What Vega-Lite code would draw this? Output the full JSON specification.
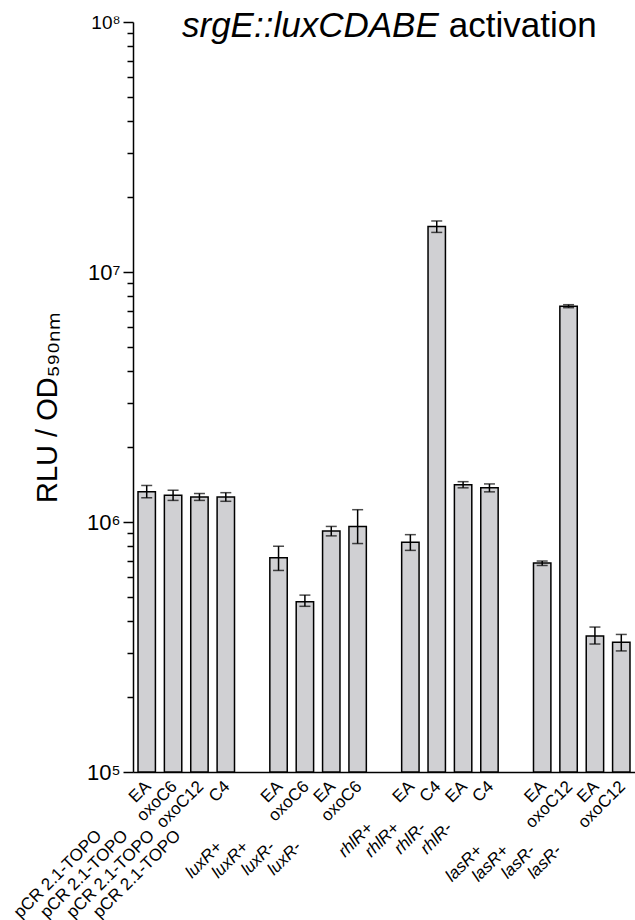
{
  "$schema": "https://vega.github.io/schema/vega-lite/v6.json",
  "width": 502,
  "height": 750,
  "autosize": {"type": "none"},
  "padding": {"left": 133, "top": 22, "right": 0, "bottom": 148},
  "background": "white",
  "config": {"view": {"stroke": null}, "font": "Liberation Sans", "text": {"font": "Liberation Sans", "color": "black"}},
  "data": {"values": [
    {"slot": "pCR|EA", "grp": "pCR", "strain": "pCR 2.1-TOPO", "treatment": "EA", "value": 1320000, "lo": 1250000, "hi": 1400000},
    {"slot": "pCR|oxoC6", "grp": "pCR", "strain": "pCR 2.1-TOPO", "treatment": "oxoC6", "value": 1280000, "lo": 1220000, "hi": 1340000},
    {"slot": "pCR|oxoC12", "grp": "pCR", "strain": "pCR 2.1-TOPO", "treatment": "oxoC12", "value": 1260000, "lo": 1220000, "hi": 1300000},
    {"slot": "pCR|C4", "grp": "pCR", "strain": "pCR 2.1-TOPO", "treatment": "C4", "value": 1260000, "lo": 1210000, "hi": 1310000},
    {"slot": "luxR+|EA", "grp": "luxR", "strain": "luxR+", "treatment": "EA", "value": 720000, "lo": 640000, "hi": 800000},
    {"slot": "luxR+|oxoC6", "grp": "luxR", "strain": "luxR+", "treatment": "oxoC6", "value": 480000, "lo": 460000, "hi": 510000},
    {"slot": "luxR-|EA", "grp": "luxR", "strain": "luxR-", "treatment": "EA", "value": 920000, "lo": 880000, "hi": 960000},
    {"slot": "luxR-|oxoC6", "grp": "luxR", "strain": "luxR-", "treatment": "oxoC6", "value": 960000, "lo": 820000, "hi": 1120000},
    {"slot": "rhlR+|EA", "grp": "rhlR", "strain": "rhlR+", "treatment": "EA", "value": 830000, "lo": 770000, "hi": 890000},
    {"slot": "rhlR+|C4", "grp": "rhlR", "strain": "rhlR+", "treatment": "C4", "value": 15200000, "lo": 14400000, "hi": 16000000},
    {"slot": "rhlR-|EA", "grp": "rhlR", "strain": "rhlR-", "treatment": "EA", "value": 1410000, "lo": 1370000, "hi": 1450000},
    {"slot": "rhlR-|C4", "grp": "rhlR", "strain": "rhlR-", "treatment": "C4", "value": 1370000, "lo": 1320000, "hi": 1420000},
    {"slot": "lasR+|EA", "grp": "lasR", "strain": "lasR+", "treatment": "EA", "value": 686000, "lo": 670000, "hi": 698000},
    {"slot": "lasR+|oxoC12", "grp": "lasR", "strain": "lasR+", "treatment": "oxoC12", "value": 7300000, "lo": 7200000, "hi": 7400000},
    {"slot": "lasR-|EA", "grp": "lasR", "strain": "lasR-", "treatment": "EA", "value": 350000, "lo": 325000, "hi": 380000},
    {"slot": "lasR-|oxoC12", "grp": "lasR", "strain": "lasR-", "treatment": "oxoC12", "value": 330000, "lo": 305000, "hi": 355000}
  ]},
  "layer": [
    {
      "mark": {"type": "bar", "fill": "#d0d0d3", "stroke": "black", "strokeWidth": 1.5},
      "encoding": {
        "x": {
          "field": "slot", "type": "nominal",
          "scale": {"domain": ["pCR|EA", "pCR|oxoC6", "pCR|oxoC12", "pCR|C4", "gap1", "luxR+|EA", "luxR+|oxoC6", "luxR-|EA", "luxR-|oxoC6", "gap2", "rhlR+|EA", "rhlR+|C4", "rhlR-|EA", "rhlR-|C4", "gap3", "lasR+|EA", "lasR+|oxoC12", "lasR-|EA", "lasR-|oxoC12"], "paddingInner": 0.34, "paddingOuter": 0.19},
          "axis": {"title": null, "labels": false, "ticks": false, "domain": true, "domainColor": "black", "domainWidth": 1.5, "grid": false}
        },
        "y": {
          "field": "value", "type": "quantitative",
          "scale": {"type": "log", "domain": [100000, 100000000], "nice": false},
          "axis": {
            "title": "RLU / OD₅₉₀ₙₘ",
            "titleFontSize": 29, "titleFontWeight": "normal", "titleColor": "black",
            "titleX": -86, "titleY": 385, "titleAngle": -90, "titleAlign": "center", "titleBaseline": "middle",
            "values": [100000, 200000, 300000, 400000, 500000, 600000, 700000, 800000, 900000, 1000000, 2000000, 3000000, 4000000, 5000000, 6000000, 7000000, 8000000, 9000000, 10000000, 20000000, 30000000, 40000000, 50000000, 60000000, 70000000, 80000000, 90000000, 100000000],
            "labelExpr": "datum.value == 100000 ? '10⁵' : datum.value == 1000000 ? '10⁶' : datum.value == 10000000 ? '10⁷' : datum.value == 100000000 ? '10⁸' : ''",
            "labelFontSize": {"condition": {"test": "datum.value == 100000000", "value": 19}, "value": 22},
            "labelColor": "black", "labelOverlap": false, "labelFlush": false, "labelPadding": 3,
            "tickSize": {"condition": {"test": "datum.value == 100000 || datum.value == 1000000 || datum.value == 10000000 || datum.value == 100000000", "value": 10}, "value": 6},
            "tickColor": "black", "tickWidth": 1.5, "domainColor": "black", "domainWidth": 1.5, "grid": false
          }
        },
        "y2": {"datum": 100000}
      }
    },
    {
      "mark": {"type": "rule", "color": "black", "strokeWidth": 1.5},
      "encoding": {
        "x": {"field": "slot", "type": "nominal"},
        "y": {"field": "lo", "type": "quantitative"},
        "y2": {"field": "hi"}
      }
    },
    {
      "mark": {"type": "tick", "color": "black", "thickness": 1.5, "size": 11},
      "encoding": {
        "x": {"field": "slot", "type": "nominal"},
        "y": {"field": "lo", "type": "quantitative"}
      }
    },
    {
      "mark": {"type": "tick", "color": "black", "thickness": 1.5, "size": 11},
      "encoding": {
        "x": {"field": "slot", "type": "nominal"},
        "y": {"field": "hi", "type": "quantitative"}
      }
    },
    {
      "mark": {"type": "text", "angle": -45, "align": "right", "baseline": "middle", "dx": -7.5, "dy": 9.5, "fontSize": 17},
      "encoding": {
        "x": {"field": "slot", "type": "nominal"},
        "y": {"datum": 100000},
        "text": {"field": "treatment"}
      }
    },
    {
      "transform": [{"filter": "datum.grp == 'pCR'"}],
      "mark": {"type": "text", "angle": -45, "align": "right", "baseline": "middle", "dx": -77, "dy": 9.5, "fontSize": 17},
      "encoding": {
        "x": {"field": "slot", "type": "nominal"},
        "y": {"datum": 100000},
        "text": {"field": "strain"}
      }
    },
    {
      "transform": [{"filter": "datum.grp == 'luxR'"}],
      "mark": {"type": "text", "angle": -45, "align": "right", "baseline": "middle", "dx": -93, "dy": 9.5, "fontSize": 17, "fontStyle": "italic"},
      "encoding": {
        "x": {"field": "slot", "type": "nominal"},
        "y": {"datum": 100000},
        "text": {"field": "strain"}
      }
    },
    {
      "transform": [{"filter": "datum.grp == 'rhlR'"}],
      "mark": {"type": "text", "angle": -45, "align": "right", "baseline": "middle", "dx": -66, "dy": 9.5, "fontSize": 17, "fontStyle": "italic"},
      "encoding": {
        "x": {"field": "slot", "type": "nominal"},
        "y": {"datum": 100000},
        "text": {"field": "strain"}
      }
    },
    {
      "transform": [{"filter": "datum.grp == 'lasR'"}],
      "mark": {"type": "text", "angle": -45, "align": "right", "baseline": "middle", "dx": -98, "dy": 9.5, "fontSize": 17, "fontStyle": "italic"},
      "encoding": {
        "x": {"field": "slot", "type": "nominal"},
        "y": {"datum": 100000},
        "text": {"field": "strain"}
      }
    },
    {
      "data": {"values": [{"t": "srgE::luxCDABE"}]},
      "mark": {"type": "text", "fontSize": 35, "fontStyle": "italic", "align": "right", "baseline": "middle", "dx": 2, "dy": 4},
      "encoding": {
        "x": {"datum": "rhlR+|C4"},
        "y": {"datum": 100000000},
        "text": {"field": "t"}
      }
    },
    {
      "data": {"values": [{"t": "activation"}]},
      "mark": {"type": "text", "fontSize": 35, "align": "left", "baseline": "middle", "dx": 12, "dy": 4},
      "encoding": {
        "x": {"datum": "rhlR+|C4"},
        "y": {"datum": 100000000},
        "text": {"field": "t"}
      }
    }
  ]
}
